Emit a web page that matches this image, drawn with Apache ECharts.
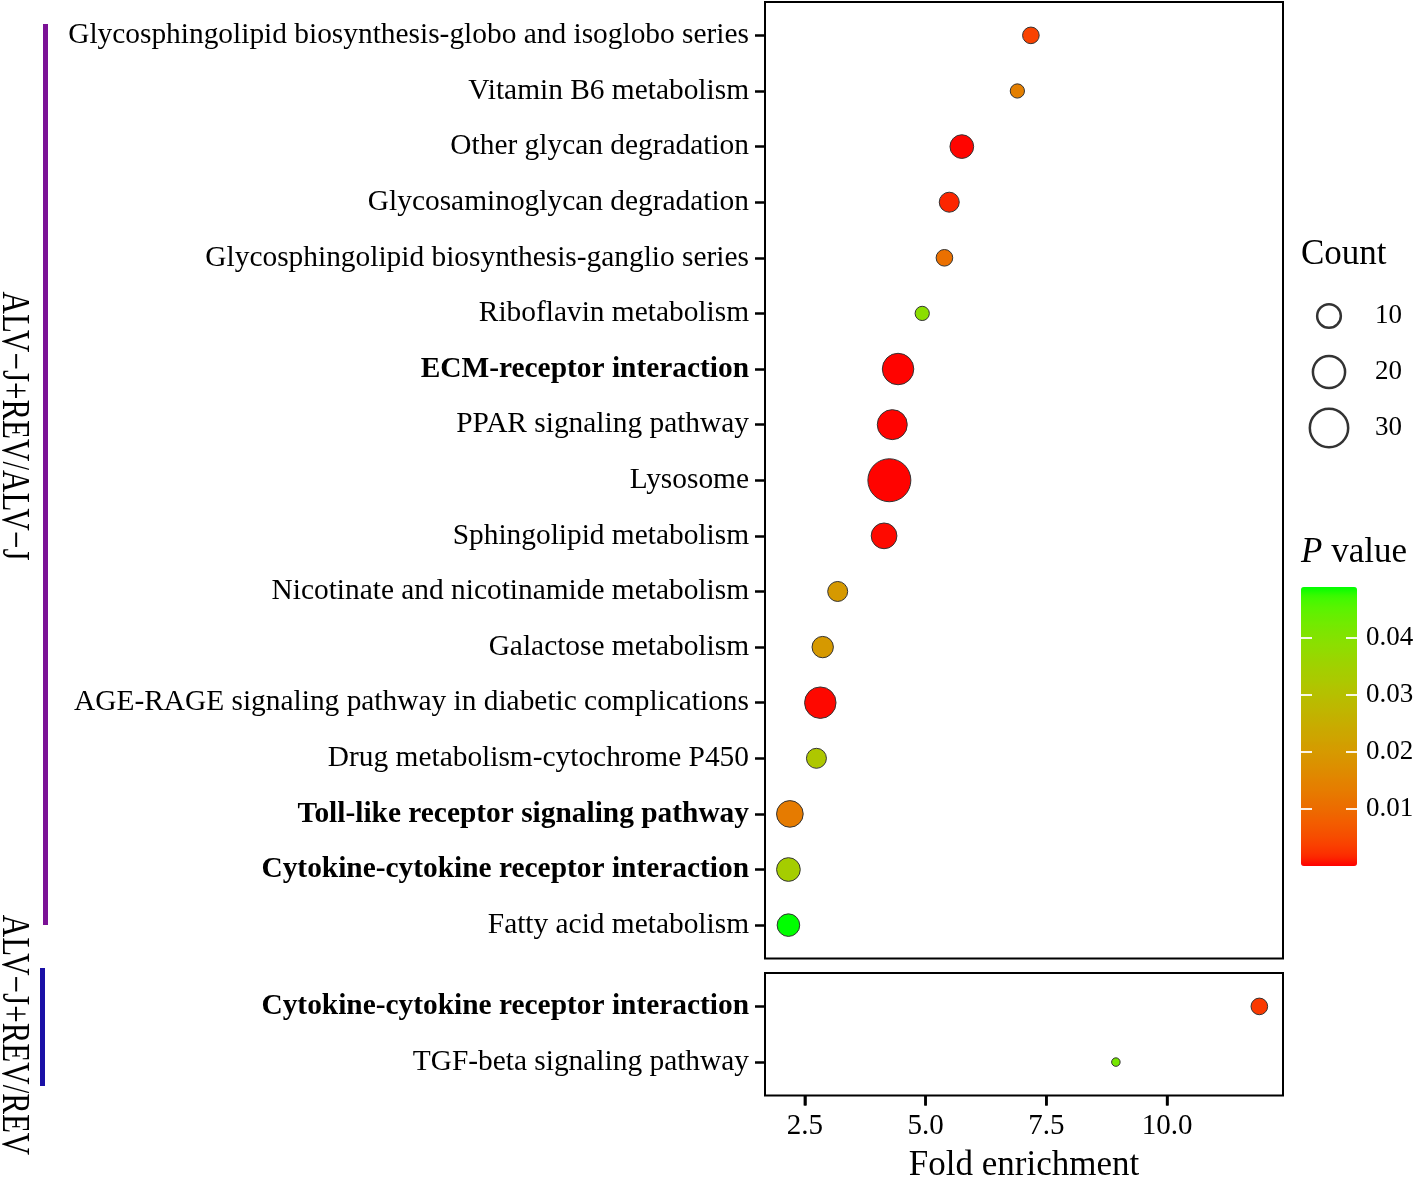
<!DOCTYPE html>
<html>
<head>
<meta charset="utf-8">
<script src="https://cdn.jsdelivr.net/npm/echarts@6/dist/echarts.min.js"></script>
<style>
html,body{margin:0;padding:0;background:#fff;}
#chart{width:1416px;height:1178px;}
</style>
</head>
<body>
<div id="chart"></div>
<script>
// ---------------- data ----------------
const categoriesTop = [
  'Glycosphingolipid biosynthesis-globo and isoglobo series',
  'Vitamin B6 metabolism',
  'Other glycan degradation',
  'Glycosaminoglycan degradation',
  'Glycosphingolipid biosynthesis-ganglio series',
  'Riboflavin metabolism',
  'ECM-receptor interaction',
  'PPAR signaling pathway',
  'Lysosome',
  'Sphingolipid metabolism',
  'Nicotinate and nicotinamide metabolism',
  'Galactose metabolism',
  'AGE-RAGE signaling pathway in diabetic complications',
  'Drug metabolism-cytochrome P450',
  'Toll-like receptor signaling pathway',
  'Cytokine-cytokine receptor interaction',
  'Fatty acid metabolism'
];
const foldTop  = [7.18, 6.90, 5.75, 5.49, 5.39, 4.93, 4.43, 4.31, 4.25, 4.14, 3.18, 2.87, 2.82, 2.74, 2.19, 2.16, 2.16];
const countTop = [5, 4, 10, 7, 5, 4, 19, 17, 39, 12, 7, 8, 19, 7, 13, 10, 9];
const pTop     = [0.004, 0.014, 0.0002, 0.0015, 0.011, 0.039, 0.0001, 0.0001, 0.0001, 0.0004, 0.020, 0.020, 0.0003, 0.032, 0.013, 0.034, 0.049];

const categoriesBottom = ['Cytokine-cytokine receptor interaction', 'TGF-beta signaling pathway'];
const foldBottom  = [11.91, 8.94];
const countBottom = [5, 3];
const pBottom     = [0.003, 0.042];

const boldTerms = ['ECM-receptor interaction', 'Toll-like receptor signaling pathway', 'Cytokine-cytokine receptor interaction'];
const groupLabels = ['ALV\u2212J+REV/ALV\u2212J', 'ALV\u2212J+REV/REV'];
const xTicks = [2.5, 5.0, 7.5, 10.0];
const pTicks = [0.01, 0.02, 0.03, 0.04];
const countLegend = [10, 20, 30];

// ---------------- helpers ----------------
const FONT = 'Liberation Serif';
const X_MIN = 1.675, X_MAX = 12.40;
const P_MIN = 0, P_MAX = Math.max(...pTop, ...pBottom);
const C_MIN = Math.min(...countTop, ...countBottom);

function diameter(c) { return 9.5 + 5.745 * Math.sqrt(Math.max(c - C_MIN, 0)); }

function toLin(c){ c/=255; return c<=0.04045? c/12.92 : Math.pow((c+0.055)/1.055, 2.4); }
function fromLin(c){ c = c<=0.0031308 ? 12.92*c : 1.055*Math.pow(c, 1/2.4)-0.055; return Math.max(0, Math.min(255, Math.round(c*255))); }
function rgb2lab(rgb){
  const r=toLin(rgb[0]), g=toLin(rgb[1]), b=toLin(rgb[2]);
  const x=(0.4124*r+0.3576*g+0.1805*b)/0.95047, y=(0.2126*r+0.7152*g+0.0722*b), z=(0.0193*r+0.1192*g+0.9505*b)/1.08883;
  const f=t=>t>0.008856?Math.cbrt(t):7.787*t+16/116;
  const fx=f(x), fy=f(y), fz=f(z);
  return [116*fy-16, 500*(fx-fy), 200*(fy-fz)];
}
function lab2rgb(lab){
  const fy=(lab[0]+16)/116, fx=fy+lab[1]/500, fz=fy-lab[2]/200;
  const fi=t=>t>0.206893?t*t*t:(t-16/116)/7.787;
  const x=fi(fx)*0.95047, y=fi(fy), z=fi(fz)*1.08883;
  const r=3.2406*x-1.5372*y-0.4986*z, g=-0.9689*x+1.8758*y+0.0415*z, b=0.0557*x-0.2040*y+1.0570*z;
  return 'rgb('+fromLin(r)+','+fromLin(g)+','+fromLin(b)+')';
}
const labLow = rgb2lab([255,0,0]), labHigh = rgb2lab([0,255,0]);
const gradient = [];
for (let i=0;i<=30;i++){ const t=i/30; gradient.push(lab2rgb(labLow.map((v,k)=>v+(labHigh[k]-v)*t))); }

const dataTop = categoriesTop.map((c,i)=>[foldTop[i], i, countTop[i], pTop[i]]);
const dataBottom = categoriesBottom.map((c,i)=>[foldBottom[i], i, countBottom[i], pBottom[i]]);

const LBL = 29.4;
const labelRich = {
  n: {fontFamily: FONT, fontSize: LBL, color: '#000'},
  b: {fontFamily: FONT, fontSize: LBL, color: '#000', fontWeight: 'bold'}
};
function catFormatter(list){
  return function(v){
    const name = list[Math.round(v)];
    if (name === undefined) return '';
    return (boldTerms.indexOf(name) >= 0 ? '{b|' : '{n|') + name + '}';
  };
}
const idxTop = categoriesTop.map((_,i)=>i);
const idxBottom = categoriesBottom.map((_,i)=>i);
const hiddenLine = {show: false, onZero: false};
const gridBase = {outerBoundsMode: 'none', containLabel: false};

const chart = echarts.init(document.getElementById('chart'), null, {renderer: 'canvas'});
const option = {
  backgroundColor: '#fff',
  animation: false,
  textStyle: {fontFamily: FONT},
  grid: [
    Object.assign({left: 765, top: 2, width: 518, height: 956.5, show: true, borderColor: '#000', borderWidth: 2, backgroundColor: '#fff'}, gridBase),
    Object.assign({left: 765, top: 973, width: 518, height: 122.5, show: true, borderColor: '#000', borderWidth: 2, backgroundColor: '#fff'}, gridBase),
    Object.assign({left: 1301, top: 587, width: 56, height: 279, show: false}, gridBase),
    Object.assign({left: 1309, top: 288, width: 40, height: 168, show: false}, gridBase)
  ],
  xAxis: [
    {type: 'value', gridIndex: 0, min: X_MIN, max: X_MAX, axisLine: hiddenLine, axisTick: {show: false}, axisLabel: {show: false}, splitLine: {show: false}},
    {type: 'value', gridIndex: 1, min: X_MIN, max: X_MAX, position: 'bottom',
     axisLine: {show: false, onZero: false}, splitLine: {show: false},
     axisTick: {show: true, length: 10, customValues: xTicks, lineStyle: {color: '#000', width: 2.5}},
     axisLabel: {customValues: xTicks, margin: 16, fontSize: 29, color: '#000', fontFamily: FONT, formatter: v => v.toFixed(1)},
     name: 'Fold enrichment', nameLocation: 'middle', nameGap: 53,
     nameTextStyle: {fontSize: 35, color: '#000', fontFamily: FONT}},
    {type: 'value', gridIndex: 2, show: false, min: 0, max: 1, axisLine: hiddenLine},
    {type: 'value', gridIndex: 3, show: false, min: -1, max: 1, axisLine: hiddenLine}
  ],
  yAxis: [
    {type: 'value', gridIndex: 0, inverse: true, min: -0.6, max: categoriesTop.length - 0.4,
     axisLine: hiddenLine, splitLine: {show: false},
     axisTick: {show: true, length: 10, customValues: idxTop, lineStyle: {color: '#000', width: 2.5}},
     axisLabel: {customValues: idxTop, margin: 16, formatter: catFormatter(categoriesTop), rich: labelRich}},
    {type: 'value', gridIndex: 1, inverse: true, min: -0.6, max: categoriesBottom.length - 0.4,
     axisLine: hiddenLine, splitLine: {show: false},
     axisTick: {show: true, length: 10, customValues: idxBottom, lineStyle: {color: '#000', width: 2.5}},
     axisLabel: {customValues: idxBottom, margin: 16, formatter: catFormatter(categoriesBottom), rich: labelRich}},
    {type: 'value', gridIndex: 2, position: 'right', min: P_MIN, max: P_MAX, z: 20,
     axisLine: hiddenLine, splitLine: {show: false},
     axisTick: {show: true, inside: true, length: 11, customValues: pTicks, lineStyle: {color: '#fff', width: 1.8}},
     axisLabel: {customValues: pTicks, margin: 9, fontSize: 27, color: '#000', fontFamily: FONT, formatter: v => v.toFixed(2)}},
    {type: 'value', gridIndex: 2, position: 'left', min: P_MIN, max: P_MAX, z: 20,
     axisLine: hiddenLine, splitLine: {show: false}, axisLabel: {show: false},
     axisTick: {show: true, inside: true, length: 11, customValues: pTicks, lineStyle: {color: '#fff', width: 1.8}}},
    {type: 'category', gridIndex: 3, position: 'right', inverse: true, data: countLegend.map(String),
     axisLine: {show: false}, axisTick: {show: false}, splitLine: {show: false},
     axisLabel: {margin: 26, fontSize: 27, color: '#000', fontFamily: FONT}}
  ],
  visualMap: {
    type: 'continuous', min: P_MIN, max: P_MAX, dimension: 3, seriesIndex: [0, 1],
    inRange: {color: gradient}, calculable: false, showLabel: false,
    left: 1301, top: 587, itemWidth: 56, itemHeight: 279, padding: 0, z: 4
  },
  series: [
    {type: 'scatter', xAxisIndex: 0, yAxisIndex: 0, data: dataTop,
     symbolSize: v => diameter(v[2]) - 1,
     itemStyle: {borderColor: '#333', borderWidth: 1, opacity: 1}, emphasis: {disabled: true}},
    {type: 'scatter', xAxisIndex: 1, yAxisIndex: 1, data: dataBottom,
     symbolSize: v => diameter(v[2]) - 1,
     itemStyle: {borderColor: '#333', borderWidth: 1, opacity: 1}, emphasis: {disabled: true}},
    {type: 'scatter', xAxisIndex: 3, yAxisIndex: 4, silent: true,
     data: countLegend.map((c,i)=>[0, i, c]),
     symbolSize: v => diameter(v[2]) - 1,
     itemStyle: {color: 'rgba(0,0,0,0)', borderColor: '#000', borderWidth: 2.5}}
  ],
  graphic: [
    {type: 'text', x: 1301, y: 255, style: {text: 'Count', font: '35px "Liberation Serif"', fill: '#000', verticalAlign: 'middle'}},
    {type: 'text', x: 1301, y: 553, style: {text: '{i|P} value', font: '35px "Liberation Serif"', fill: '#000', verticalAlign: 'middle',
      rich: {i: {fontStyle: 'italic', fontFamily: FONT, fontSize: 35}}}},
    {type: 'rect', shape: {x: 43, y: 24, width: 5, height: 901}, style: {fill: '#7B1296'}},
    {type: 'rect', shape: {x: 40, y: 968, width: 5, height: 118}, style: {fill: '#1A10A6'}},
    {type: 'text', x: 13.5, y: 426, rotation: -Math.PI/2, scaleY: 1.3,
     style: {text: groupLabels[0], font: '31px "Liberation Serif"', fill: '#000', align: 'center', verticalAlign: 'middle'}},
    {type: 'text', x: 13.5, y: 1035, rotation: -Math.PI/2, scaleY: 1.3,
     style: {text: groupLabels[1], font: '31px "Liberation Serif"', fill: '#000', align: 'center', verticalAlign: 'middle'}}
  ]
};
chart.setOption(option);

// x-axis tick marks of the bottom panel, positioned through the chart's own x scale
const yEdge = chart.convertToPixel({yAxisIndex: 1}, categoriesBottom.length - 0.4);
const tickLines = xTicks.map(v => {
  const px = chart.convertToPixel({xAxisIndex: 1}, v);
  return {type: 'line', z: 100, silent: true,
          shape: {x1: px, y1: yEdge, x2: px, y2: yEdge + 10},
          style: {stroke: '#000', lineWidth: 2.5}};
});
chart.setOption({graphic: option.graphic.concat(tickLines)});
</script>
</body>
</html>
